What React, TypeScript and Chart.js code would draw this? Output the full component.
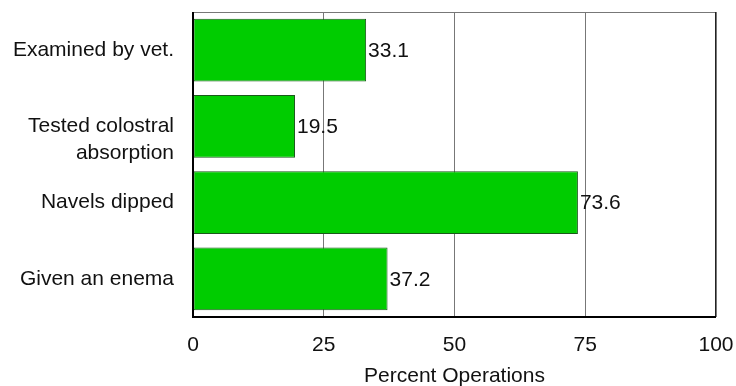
import React, { useEffect, useRef } from "react";
import { Chart, registerables } from "chart.js";

Chart.register(...registerables);

const categories: (string | string[])[] = [
  "Examined by vet.",
  ["", "Tested colostral", "absorption"],
  "Navels dipped",
  "Given an enema",
];
const values: number[] = [33.1, 19.5, 73.6, 37.2];
const xTicks: number[] = [0, 25, 50, 75, 100];
const xTitle = "Percent Operations";

const FONT = "'Liberation Sans', Arial, sans-serif";
const FS = 21;

const valueLabels = {
  id: "valueLabels",
  afterDatasetsDraw(chart: any) {
    const ctx = chart.ctx;
    const meta = chart.getDatasetMeta(0);
    ctx.save();
    ctx.font = `${FS}px ${FONT}`;
    ctx.fillStyle = "#111";
    ctx.textAlign = "left";
    ctx.textBaseline = "middle";
    meta.data.forEach((el: any, i: number) => {
      ctx.fillText(values[i].toFixed(1), el.x + 2, el.y + 1);
    });
    ctx.restore();
  },
};

const frame = {
  id: "frame",
  afterDraw(chart: any) {
    const { ctx, chartArea: a } = chart;
    ctx.save();
    ctx.lineWidth = 1;
    ctx.strokeStyle = "#777";
    ctx.beginPath();
    ctx.moveTo(a.left, a.top + 0.5);
    ctx.lineTo(a.right, a.top + 0.5);
    ctx.stroke();
    ctx.strokeStyle = "#222";
    ctx.beginPath();
    ctx.moveTo(a.right - 0.5, a.top);
    ctx.lineTo(a.right - 0.5, a.bottom);
    ctx.stroke();
    ctx.strokeStyle = "#000";
    ctx.lineWidth = 2;
    ctx.beginPath();
    ctx.moveTo(a.left, a.top);
    ctx.lineTo(a.left, a.bottom);
    ctx.lineTo(a.right, a.bottom);
    ctx.stroke();
    ctx.restore();
  },
};

export default function App() {
  const ref = useRef<HTMLCanvasElement>(null);
  useEffect(() => {
    const chart = new Chart(ref.current!, {
      type: "bar",
      data: {
        labels: categories as any,
        datasets: [
          {
            data: values,
            backgroundColor: "#00CC00",
            borderColor: "#1a5a1a",
            borderWidth: 1,
            borderSkipped: false,
            barPercentage: 0.82,
            categoryPercentage: 1,
          },
        ],
      },
      options: {
        indexAxis: "y",
        animation: false,
        responsive: false,
        maintainAspectRatio: false,
        layout: { padding: { top: 12, right: 20, left: 0, bottom: 0 } },
        plugins: { legend: { display: false }, tooltip: { enabled: false } },
        scales: {
          x: {
            min: 0,
            max: 100,
            afterBuildTicks: (s: any) => {
              s.ticks = xTicks.map((v) => ({ value: v }));
            },
            grid: { color: "#777", drawTicks: false, lineWidth: 1 },
            border: { display: false },
            ticks: {
              color: "#111",
              font: { family: FONT, size: FS, lineHeight: 1.2 },
              padding: 16,
              maxRotation: 0,
            },
            title: {
              display: true,
              text: xTitle,
              color: "#111",
              font: { family: FONT, size: FS, lineHeight: 1 },
              padding: { top: 0, bottom: -1 },
            },
            afterFit: (s: any) => {
              s.height = 69;
              s.paddingLeft = 0;
              s.paddingRight = 0;
            },
          },
          y: {
            grid: { display: false, drawTicks: false },
            border: { display: false },
            ticks: {
              color: "#111",
              font: { family: FONT, size: FS, lineHeight: 1.29 },
              padding: 19,
              autoSkip: false,
            },
            afterFit: (s: any) => {
              s.width = 193;
              s.paddingTop = 0;
              s.paddingBottom = 0;
            },
          },
        },
      },
      plugins: [valueLabels, frame],
    });
    return () => chart.destroy();
  }, []);
  return (
    <div style={{ position: "absolute", left: 0, top: 0, width: 736, height: 386, background: "#fff" }}>
      <canvas ref={ref} width={736} height={386} style={{ width: 736, height: 386 }} />
    </div>
  );
}
